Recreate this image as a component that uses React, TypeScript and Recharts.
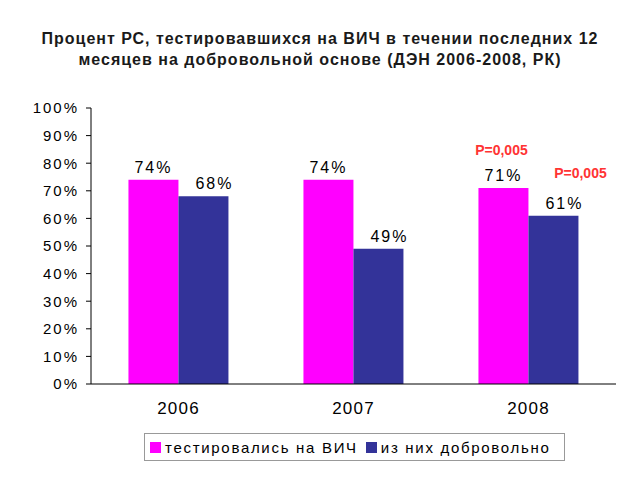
import React from "react";
import { BarChart, Bar, XAxis, YAxis, Legend, LabelList } from "recharts";

const years = ["2006", "2007", "2008"];
const tested = [0.74, 0.74, 0.71];
const voluntary = [0.68, 0.49, 0.61];
const testedNotes = ["", "", "P=0,005"];
const voluntaryNotes = ["", "", "P=0,005"];
const yTicks = [0, 0.1, 0.2, 0.3, 0.4, 0.5, 0.6, 0.7, 0.8, 0.9, 1];

const seriesNames = ["тестировались на ВИЧ", "из них добровольно"];
const PINK = "#FF00FF";
const NAVY = "#333399";
const FONT = "'Liberation Sans', Arial, sans-serif";

const data = years.map((year, i) => ({
  year,
  tested: tested[i],
  voluntary: voluntary[i],
}));

const pct = (v: number) => `${Math.round(v * 100)}%`;

function makeLabel(notes: string[], labelDx: number, noteDx: number, noteDy: number) {
  return (props: any) => {
    const { x, y, width, value, index } = props;
    const cx = x + width / 2;
    const note = notes[index];
    return (
      <g>
        <text
          x={cx + labelDx}
          y={y - 7}
          textAnchor="middle"
          fontFamily={FONT}
          fontSize={16}
          letterSpacing={2}
          fill="#000"
        >
          {pct(value)}
        </text>
        {note ? (
          <text
            x={cx + noteDx}
            y={y - noteDy}
            textAnchor="middle"
            fontFamily={FONT}
            fontSize={14}
            fontWeight="bold"
            fill="#FF3333"
          >
            {note}
          </text>
        ) : null}
      </g>
    );
  };
}

function LegendBox() {
  const colors = [PINK, NAVY];
  return (
    <div
      style={{
        border: "1px solid #999",
        height: 28,
        width: 421,
        boxSizing: "border-box",
        display: "flex",
        alignItems: "center",
        paddingLeft: 5,
        fontFamily: FONT,
        fontSize: 15,
        letterSpacing: 1.7,
        color: "#000",
        background: "#fff",
      }}
    >
      {seriesNames.map((n, i) => (
        <span key={n} style={{ display: "flex", alignItems: "center", marginRight: 8 }}>
          <span style={{ width: 11, height: 11, background: colors[i], display: "inline-block", marginRight: 4 }} />
          {n}
        </span>
      ))}
    </div>
  );
}

export default function App() {
  return (
    <div style={{ position: "absolute", left: 0, top: 0, width: 640, height: 480, background: "#fff" }}>
      <div
        style={{
          position: "absolute",
          top: 28,
          left: 0,
          width: 640,
          textAlign: "center",
          fontFamily: FONT,
          fontWeight: "bold",
          fontSize: 16,
          letterSpacing: 1,
          lineHeight: "21px",
          color: "#1a1a1a",
        }}
      >
        Процент РС, тестировавшихся на ВИЧ в течении последних 12
        <br />
        месяцев на добровольной основе (ДЭН 2006-2008, РК)
      </div>
      <BarChart
        width={640}
        height={480}
        data={data}
        margin={{ top: 108, right: 24, bottom: 66, left: 0 }}
        barCategoryGap="21.4%"
        barGap={0}
        style={{ position: "absolute", left: 0, top: 0 }}
      >
        <XAxis
          dataKey="year"
          height={30}
          tickLine={false}
          axisLine={{ stroke: "#000" }}
          tickMargin={12}
          tick={{ fontSize: 17, fill: "#000", fontFamily: FONT, letterSpacing: 1.2 }}
        />
        <YAxis
          width={91}
          domain={[0, 1]}
          ticks={yTicks}
          tickFormatter={pct}
          interval={0}
          axisLine={{ stroke: "#000" }}
          tickLine={{ stroke: "#000" }}
          tickSize={5}
          tickMargin={7}
          tick={{ fontSize: 15, fill: "#000", fontFamily: FONT, letterSpacing: 2 }}
        />
        <Legend
          layout="horizontal"
          verticalAlign="middle"
          align="center"
          content={() => <LegendBox />}
          wrapperStyle={{ position: "absolute", left: 144, top: 433, width: 421, height: 28 }}
        />
        <Bar dataKey="tested" name={seriesNames[0]} fill={PINK} isAnimationActive={false}>
          <LabelList dataKey="tested" content={makeLabel(testedNotes, 0, -2, 33)} />
        </Bar>
        <Bar dataKey="voluntary" name={seriesNames[1]} fill={NAVY} isAnimationActive={false}>
          <LabelList dataKey="voluntary" content={makeLabel(voluntaryNotes, 11, 27, 38)} />
        </Bar>
      </BarChart>
    </div>
  );
}
